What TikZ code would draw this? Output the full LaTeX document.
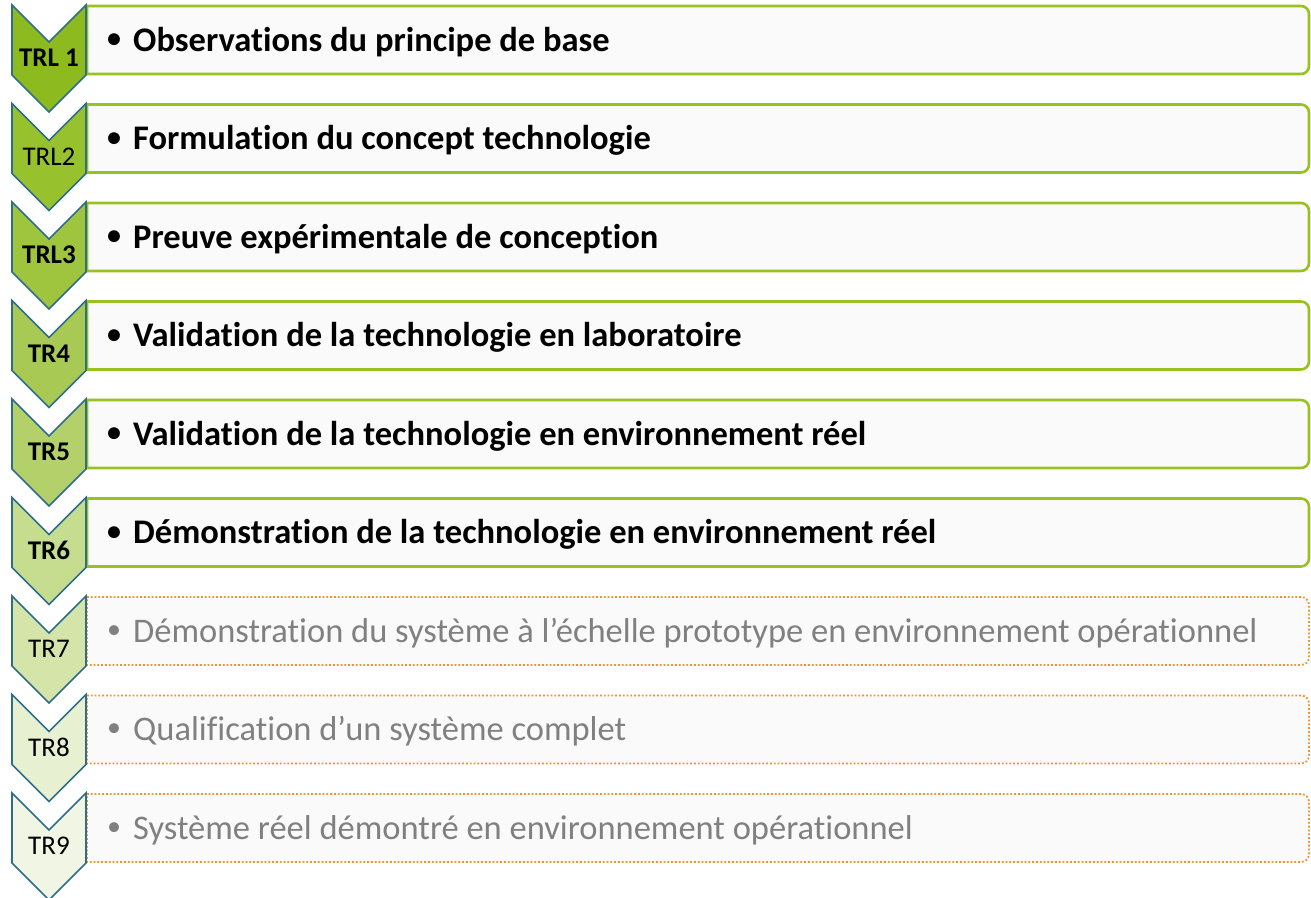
\documentclass[tikz,border=0pt]{standalone}
\usepackage{fontspec}
\setmainfont{Carlito}[Ligatures=NoCommon]

\definecolor{lvlA}{HTML}{8DBB1F}
\definecolor{lvlB}{HTML}{97C22E}
\definecolor{lvlC}{HTML}{9FC53F}
\definecolor{lvlD}{HTML}{A8CA55}
\definecolor{lvlE}{HTML}{B3D06A}
\definecolor{lvlF}{HTML}{C6DD8F}
\definecolor{lvlG}{HTML}{D5E5AA}
\definecolor{lvlH}{HTML}{E7F0D0}
\definecolor{lvlI}{HTML}{F1F6E4}
\definecolor{edge}{HTML}{2E6D8C}
\definecolor{okline}{HTML}{97C21F}
\definecolor{todo}{HTML}{F39325}
\definecolor{boxfill}{HTML}{FAFAFA}
\definecolor{greytext}{HTML}{808080}

\begin{document}
\begin{tikzpicture}[x=1pt,y=-1pt,
    chevron/.style={draw=edge,line width=1.6pt,line join=miter},
    donebox/.style={draw=okline,line width=2.6pt,fill=boxfill},
    nextbox/.style={draw=todo,line width=1.8pt,dotted,fill=boxfill},
    lbl/.style={inner sep=0pt,font=\fontsize{27}{27}\selectfont},
    dot/.style={inner sep=0pt,font=\fontsize{28}{28}\selectfont},
    item/.style={anchor=west,inner sep=0pt,font=\fontsize{34.5}{34.5}\selectfont}]
  \useasboundingbox (0,0) rectangle (1311,897);

  \foreach[count=\i,evaluate={5+(\i-1)*98.5} as \t] \l/\c/\lf/\s/\tf/\txt in {
      TRL 1/lvlA/\bfseries/donebox/\bfseries/Observations du principe de base,
      TRL2/lvlB/{}/donebox/\bfseries/Formulation du concept technologie,
      TRL3/lvlC/\bfseries/donebox/\bfseries/Preuve expérimentale de conception,
      TR4/lvlD/\bfseries/donebox/\bfseries/Validation de la technologie en laboratoire,
      TR5/lvlE/\bfseries/donebox/\bfseries/Validation de la technologie en environnement réel,
      TR6/lvlF/\bfseries/donebox/\bfseries/Démonstration de la technologie en environnement réel,
      TR7/lvlG/{}/nextbox/\color{greytext}/Démonstration du système à l’échelle prototype en environnement opérationnel,
      TR8/lvlH/{}/nextbox/\color{greytext}/Qualification d’un système complet,
      TR9/lvlI/{}/nextbox/\color{greytext}/Système réel démontré en environnement opérationnel} {
    \draw[\s] (87,\t+1) [rounded corners=8] -- (1309,\t+1) -- (1309,\t+69) [sharp corners] -- (87,\t+69) -- cycle;
    \node[dot] (dot\i) at (114,\t+36) {\tf •};
    \node[item] (txt\i) at (133,\t+37) {\tf \txt};
    \draw[chevron,fill=\c] (12,\t) -- (49,\t+37) -- (86,\t) -- (86,\t+70) -- (49,\t+107) -- (12,\t+70) -- cycle;
    \node[lbl] (lvl\i) at (49,\t+53) {\lf \l};
  }
\end{tikzpicture}
\end{document}
